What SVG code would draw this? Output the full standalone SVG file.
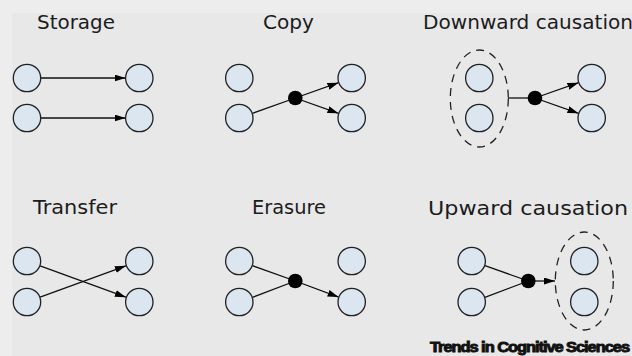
<svg xmlns="http://www.w3.org/2000/svg" width="632" height="356" viewBox="0 0 632 356">
  <defs>
    <marker id="arrow" viewBox="0 0 11 7" refX="11" refY="3.5" markerWidth="11" markerHeight="7" markerUnits="userSpaceOnUse" orient="auto">
      <path d="M0,0 L11,3.5 L0,7 Z" fill="#000"/>
    </marker>
  </defs>
  <style>
    .title { font-family: "DejaVu Sans", "Liberation Sans", sans-serif; font-size: 19px; fill: #1c1c1c; }
    .node { fill: #dbe6f1; stroke: #222; stroke-width: 1.3; }
    .hub { fill: #000; }
    .group { fill: none; stroke: #222; stroke-width: 1.3; stroke-dasharray: 8 6; }
    .edge { stroke: #111; stroke-width: 1.3; fill: none; }
    .arr { marker-end: url(#arrow); }
    .brand { font-family: "Liberation Sans", "Arial", sans-serif; font-weight: 700; font-size: 14px; fill: #111; stroke: #111; stroke-width: 0.9; letter-spacing: -0.9px; }
  </style>

  <rect width="632" height="356" fill="#ededed"/>
  <rect x="12" y="13" width="620" height="343" fill="#e8e8e8"/>

  <!-- panel titles -->
  <g id="titles">
    <text class="title" x="37" y="29" textLength="78" lengthAdjust="spacingAndGlyphs">Storage</text>
    <text class="title" x="263" y="29" textLength="51" lengthAdjust="spacingAndGlyphs">Copy</text>
    <text class="title" x="423" y="29" textLength="210" lengthAdjust="spacingAndGlyphs">Downward causation</text>
    <text class="title" x="33" y="214" textLength="84" lengthAdjust="spacingAndGlyphs">Transfer</text>
    <text class="title" x="252" y="214" textLength="74" lengthAdjust="spacingAndGlyphs">Erasure</text>
    <text class="title" x="428" y="215" textLength="200" lengthAdjust="spacingAndGlyphs">Upward causation</text>
  </g>

  <!-- connectors -->
  <g id="connectors">
    <!-- storage -->
    <line class="edge arr" x1="41" y1="78" x2="125.5" y2="78"/>
    <line class="edge arr" x1="41" y1="118" x2="125.5" y2="118"/>
    <!-- copy -->
    <line class="edge" x1="252.5" y1="113.3" x2="295.3" y2="98"/>
    <line class="edge arr" x1="295.3" y1="98" x2="338.5" y2="82.7"/>
    <line class="edge arr" x1="295.3" y1="98" x2="338.5" y2="113.3"/>
    <!-- downward causation -->
    <line class="edge" x1="508" y1="98" x2="535" y2="98"/>
    <line class="edge arr" x1="535" y1="98" x2="578.5" y2="82.7"/>
    <line class="edge arr" x1="535" y1="98" x2="578.5" y2="113.3"/>
    <!-- transfer -->
    <line class="edge arr" x1="40.1" y1="265.8" x2="125.9" y2="297.2"/>
    <line class="edge arr" x1="40.1" y1="297.2" x2="125.9" y2="265.8"/>
    <!-- erasure -->
    <line class="edge" x1="252.5" y1="265.7" x2="295.3" y2="281"/>
    <line class="edge" x1="252.5" y1="297.3" x2="295.3" y2="281"/>
    <line class="edge arr" x1="295.3" y1="281" x2="338.6" y2="297.1"/>
    <!-- upward causation -->
    <line class="edge" x1="484.9" y1="265.7" x2="528.3" y2="281"/>
    <line class="edge" x1="484.9" y1="297.3" x2="528.3" y2="281"/>
    <line class="edge arr" x1="528.3" y1="281" x2="555" y2="281"/>
  </g>

  <!-- storage -->
  <g id="storage">
    <circle class="node" cx="27" cy="78" r="13.7"/>
    <circle class="node" cx="27" cy="118" r="13.7"/>
    <circle class="node" cx="139.3" cy="78" r="13.7"/>
    <circle class="node" cx="139.3" cy="118" r="13.7"/>
  </g>

  <!-- copy -->
  <g id="copy">
    <circle class="node" cx="239.3" cy="78" r="13.7"/>
    <circle class="node" cx="239.3" cy="118" r="13.7"/>
    <circle class="hub" cx="295.3" cy="98" r="7.3"/>
    <circle class="node" cx="351.7" cy="78" r="13.7"/>
    <circle class="node" cx="351.7" cy="118" r="13.7"/>
  </g>

  <!-- downward causation -->
  <g id="downward">
    <ellipse class="group" cx="479.3" cy="98.5" rx="29" ry="48.5"/>
    <circle class="node" cx="479.3" cy="78" r="13.7"/>
    <circle class="node" cx="479.3" cy="118" r="13.7"/>
    <circle class="hub" cx="535" cy="98" r="7.3"/>
    <circle class="node" cx="591.7" cy="78" r="13.7"/>
    <circle class="node" cx="591.7" cy="118" r="13.7"/>
  </g>

  <!-- transfer -->
  <g id="transfer">
    <circle class="node" cx="27" cy="261" r="13.7"/>
    <circle class="node" cx="27" cy="302" r="13.7"/>
    <circle class="node" cx="139.3" cy="261" r="13.7"/>
    <circle class="node" cx="139.3" cy="302" r="13.7"/>
  </g>

  <!-- erasure -->
  <g id="erasure">
    <circle class="node" cx="239.3" cy="261" r="13.7"/>
    <circle class="node" cx="239.3" cy="302" r="13.7"/>
    <circle class="hub" cx="295.3" cy="281" r="7.3"/>
    <circle class="node" cx="351.7" cy="261" r="13.7"/>
    <circle class="node" cx="351.7" cy="302" r="13.7"/>
  </g>

  <!-- upward causation -->
  <g id="upward">
    <circle class="node" cx="471.7" cy="261" r="13.7"/>
    <circle class="node" cx="471.7" cy="302" r="13.7"/>
    <circle class="hub" cx="528.3" cy="281" r="7.3"/>
    <ellipse class="group" cx="584.3" cy="281" rx="29" ry="49"/>
    <circle class="node" cx="584.3" cy="261" r="13.7"/>
    <circle class="node" cx="584.3" cy="302" r="13.7"/>
  </g>

  <text class="brand" x="430" y="352" textLength="199" lengthAdjust="spacingAndGlyphs">Trends in Cognitive Sciences</text>
</svg>
